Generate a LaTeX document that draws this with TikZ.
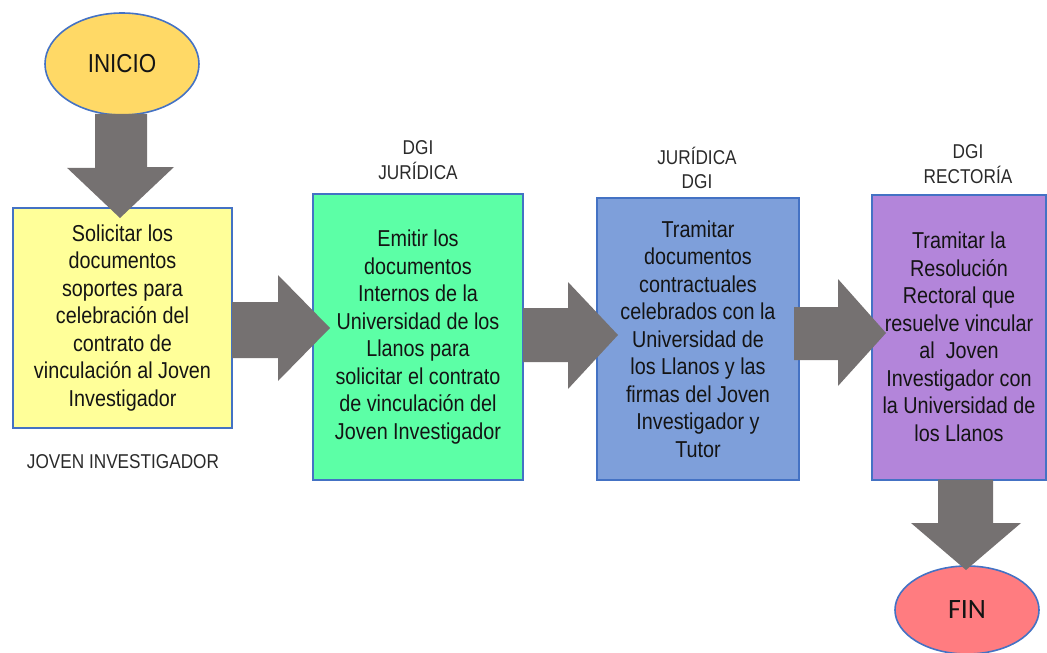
\documentclass[tikz,border=0pt]{standalone}
\usepackage{fontspec}
\setmainfont{Liberation Sans}[FakeStretch=0.86]
\newfontfamily\carlito{Carlito}
\usetikzlibrary{shapes.geometric,calc}
\definecolor{bord}{HTML}{4472C4}
\definecolor{arr}{HTML}{757171}
\definecolor{cyel}{HTML}{FFFF99}
\definecolor{cgrn}{HTML}{5CFFA6}
\definecolor{cblu}{HTML}{7E9FDA}
\definecolor{cpur}{HTML}{B385DA}
\definecolor{cini}{HTML}{FFD966}
\definecolor{cfin}{HTML}{FF7C80}
\definecolor{txt}{HTML}{141414}
\definecolor{lbl}{HTML}{2A2A2A}
\tikzset{
  stepbox/.style={draw=bord, line width=2pt, rectangle, align=center, inner sep=0pt,
    text=txt, font=\fontsize{23}{27.5}\selectfont},
  oval/.style={draw=bord, line width=1.6pt, ellipse, inner sep=0pt, text=txt},
  lab/.style={align=center, text=lbl, inner sep=0pt, font=\fontsize{20}{24.5}\selectfont},
  blockarrow/.style={fill=arr, draw=none}
}
\begin{document}
\begin{tikzpicture}[x=1pt,y=-1pt]
\useasboundingbox (0,0) rectangle (1047,653);
% nodes
\node[oval, fill=cini, minimum width=154, minimum height=102, font=\fontsize{26}{30}\selectfont] (ini) at (122,64) {INICIO};
\node[stepbox, fill=cyel, minimum width=219, minimum height=220] (b1) at (122.5,318) {Solicitar los\\documentos\\soportes para\\celebración del\\contrato de\\vinculación al Joven\\Investigador};
\node[stepbox, fill=cgrn, minimum width=210, minimum height=286] (b2) at (418,337) {Emitir los\\documentos\\Internos de la\\Universidad de los\\Llanos para\\solicitar el contrato\\de vinculación del\\Joven Investigador};
\node[stepbox, fill=cblu, minimum width=202, minimum height=282] (b3) at (698,339) {Tramitar\\documentos\\contractuales\\celebrados con la\\Universidad de\\los Llanos y las\\firmas del Joven\\Investigador y\\Tutor};
\node[stepbox, fill=cpur, minimum width=174, minimum height=285] (b4) at (959,337) {Tramitar la\\Resolución\\Rectoral que\\resuelve vincular\\al~ Joven\\Investigador con\\la Universidad de\\los Llanos};
\node[oval, fill=cfin, minimum width=144, minimum height=88, font=\carlito\fontsize{28}{32}\selectfont] (fin) at (967,610) {FIN};
% labels
\node[lab] (l1) at (123,462) {JOVEN INVESTIGADOR};
\node[lab] (l2) at (418,160) {DGI\\JURÍDICA};
\node[lab] (l3) at (697,168) {JURÍDICA\\DGI};
\node[lab] (l4) at (968,164) {DGI\\RECTORÍA};
% block arrows
\fill[blockarrow] ($(ini.south)+(-27,-2)$) -- ++(0,54) -- ++(-28,0) -- (120,218) -- (174,167) -- ++(-27,0) -- ($(ini.south)+(25,-2)$) -- cycle;
\fill[blockarrow] ($(b1.east)+(-1,-16)$) -- (278,302) -- (278,275) -- (330,328) -- (278,381) -- (278,358) -- ($(b1.east)+(-1,40)$) -- cycle;
\fill[blockarrow] ($(b2.east)+(-1,-29)$) -- (568,308) -- (568,282) -- (618,335) -- (568,389) -- (568,362) -- ($(b2.east)+(-1,25)$) -- cycle;
\fill[blockarrow] ($(b3.east)+(-6,-32)$) -- (838,307) -- (838,279) -- (886,333) -- (838,386) -- (838,360) -- ($(b3.east)+(-6,21)$) -- cycle;
\fill[blockarrow] ($(b4.south)+(-21,-1)$) -- (938,523) -- (911,523) -- (966,570) -- (1021,523) -- (993,523) -- ($(b4.south)+(34,-1)$) -- cycle;
\end{tikzpicture}
\end{document}
